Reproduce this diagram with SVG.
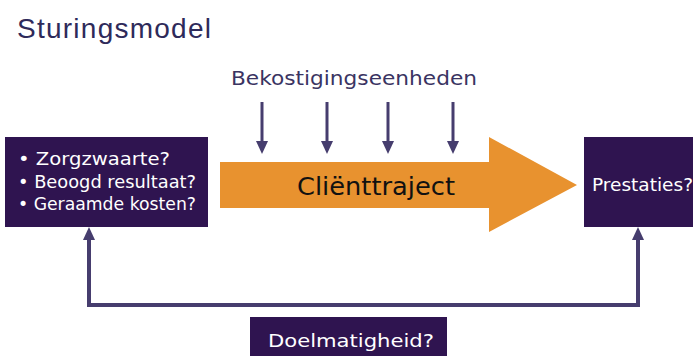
<svg xmlns="http://www.w3.org/2000/svg" width="693" height="356" viewBox="0 0 693 356">
<style>
.box{fill:#2f1450;}
.wt{fill:#ffffff;font-family:"DejaVu Sans","Open Sans",sans-serif;font-size:18px;}
.ln{stroke:#463d6e;fill:none;}
.hd{fill:#463d6e;}
</style>
<rect width="693" height="356" fill="#ffffff"/>
<text x="17" y="38" font-family="Liberation Sans,Arial,sans-serif" font-size="28" fill="#2e2a5a" textLength="194">Sturingsmodel</text>
<text x="231" y="85" font-family="DejaVu Sans,Open Sans,sans-serif" font-size="19" fill="#3a3462" textLength="246" lengthAdjust="spacingAndGlyphs">Bekostigingseenheden</text>
<g id="traject">
<polygon points="220,162 489,162 489,137 577,185 489,232 489,208 220,208" fill="#e8922f"/>
<text x="297" y="195" font-family="DejaVu Sans,Open Sans,sans-serif" font-size="25" fill="#111111" textLength="158" lengthAdjust="spacingAndGlyphs">Cliënttraject</text>
</g>
<g id="input">
<rect class="box" x="5" y="137" width="203" height="90"/>
<text class="wt" x="18" y="165" textLength="152" lengthAdjust="spacingAndGlyphs">• Zorgzwaarte?</text>
<text class="wt" x="18" y="188" textLength="178" lengthAdjust="spacingAndGlyphs">• Beoogd resultaat?</text>
<text class="wt" x="18" y="210" textLength="178" lengthAdjust="spacingAndGlyphs">• Geraamde kosten?</text>
</g>
<g id="prestaties">
<rect class="box" x="584" y="137" width="109" height="90"/>
<text class="wt" x="592" y="191" textLength="101" lengthAdjust="spacingAndGlyphs">Prestaties?</text>
</g>
<g id="doelmatigheid">
<rect class="box" x="250" y="317" width="197" height="39"/>
<text class="wt" x="268" y="347" font-size="22" textLength="166" lengthAdjust="spacingAndGlyphs">Doelmatigheid?</text>
</g>
<g id="connectors">
<g class="ln" stroke-width="3">
<line x1="262" y1="102" x2="262" y2="143"/>
<line x1="327" y1="102" x2="327" y2="143"/>
<line x1="388" y1="102" x2="388" y2="143"/>
<line x1="453" y1="102" x2="453" y2="143"/>
</g>
<polygon class="hd" points="256,141 268,141 262,154"/>
<polygon class="hd" points="321,141 333,141 327,154"/>
<polygon class="hd" points="382,141 394,141 388,154"/>
<polygon class="hd" points="447,141 459,141 453,154"/>
<polyline class="ln" stroke-width="4" points="89,238 89,305 638,305 638,238"/>
<polygon class="hd" points="83,240 95,240 89,227"/>
<polygon class="hd" points="632,240 644,240 638,227"/>
</g>
</svg>
